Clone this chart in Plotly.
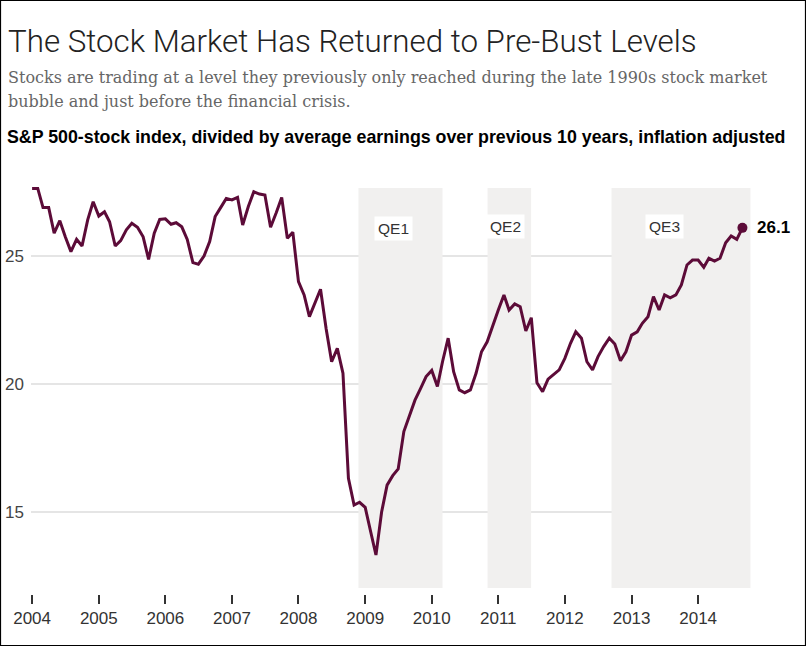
import pandas as pd
import plotly.graph_objects as go

# Shiller-style P/E (CAPE) readings, monthly, Jan 2004 - Sep 2014
pe_2004 = [27.64, 27.64, 26.89, 26.89, 25.89, 26.38, 25.75, 25.17, 25.65, 25.39, 26.41, 27.12]
pe_2005 = [26.56, 26.73, 26.34, 25.39, 25.60, 26.02, 26.28, 26.12, 25.75, 24.87, 25.89, 26.43]
pe_2006 = [26.45, 26.24, 26.30, 26.14, 25.65, 24.74, 24.68, 25.00, 25.56, 26.54, 26.90, 27.25]
pe_2007 = [27.19, 27.29, 26.21, 26.93, 27.51, 27.42, 27.38, 26.12, 26.69, 27.29, 25.69, 25.93]
pe_2008 = [24.00, 23.48, 22.63, 23.21, 23.70, 22.15, 20.87, 21.39, 20.42, 16.32, 15.27, 15.38]
pe_2009 = [15.18, 14.20, 13.32, 15.00, 16.05, 16.42, 16.68, 18.14, 18.79, 19.37, 19.83, 20.29]
pe_2010 = [20.53, 19.90, 20.87, 21.79, 20.48, 19.77, 19.66, 19.77, 20.42, 21.26, 21.65, 22.30]
pe_2011 = [22.89, 23.48, 22.89, 23.13, 23.02, 22.07, 22.59, 20.05, 19.70, 20.19, 20.39, 20.55]
pe_2012 = [21.00, 21.59, 22.04, 21.79, 20.87, 20.55, 21.07, 21.46, 21.79, 21.56, 20.91, 21.26]
pe_2013 = [21.91, 22.04, 22.37, 22.63, 23.41, 22.89, 23.48, 23.37, 23.48, 23.87, 24.65, 24.84]
pe_2014 = [24.84, 24.56, 24.91, 24.80, 24.91, 25.52, 25.78, 25.65, 26.10]

qe_names = ["QE1", "QE2", "QE3"]
qe_starts = ["2008-11-25", "2010-11-03", "2012-09-13"]
qe_ends = ["2010-03-01", "2011-06-30", "2014-10-15"]

y_ticks = [15, 20, 25]
x_ticks = [str(y) for y in range(2004, 2015)]

pe = (pe_2004 + pe_2005 + pe_2006 + pe_2007 + pe_2008 + pe_2009 +
      pe_2010 + pe_2011 + pe_2012 + pe_2013 + pe_2014)
months = pd.date_range("2004-01-01", periods=len(pe), freq="MS")

LINE = "#5c0b38"

# plot area in pixels: x 31..751, y 184..594
L, R, T, B = 31, 751, 184, 594
W, H = 806, 646


def px(x):
    return (x - L) / (R - L)


def py(y):
    return (B - y) / (B - T)


fig = go.Figure()

fig.add_trace(go.Scatter(
    x=months, y=pe, mode="lines",
    line=dict(color=LINE, width=3),
    hoverinfo="x+y", showlegend=False,
))
fig.add_trace(go.Scatter(
    x=[months[-1]], y=[pe[-1]], mode="markers",
    marker=dict(color=LINE, size=10),
    showlegend=False, cliponaxis=False,
))

shapes = []
for s, e in zip(qe_starts, qe_ends):
    shapes.append(dict(type="rect", xref="x", yref="y", x0=s, x1=e,
                       y0=12.03, y1=27.66, fillcolor="#f1f0ef",
                       line=dict(width=0), layer="below"))
for t in y_ticks:
    shapes.append(dict(type="line", xref="paper", yref="y", x0=0,
                       x1=px(743), y0=t, y1=t,
                       line=dict(color="#dcdcdc", width=1.3), layer="below"))
# outer frame
shapes.append(dict(type="rect", xref="paper", yref="paper",
                   x0=px(0.5), x1=px(W - 0.5), y0=py(H - 0.5), y1=py(0.5),
                   line=dict(color="black", width=1.2)))

annotations = [
    dict(text="The Stock Market Has Returned to Pre-Bust Levels",
         xref="paper", yref="paper", x=px(6), y=py(42), xanchor="left",
         yanchor="middle", showarrow=False,
         font=dict(family="Roboto", size=31.3, color="#222", weight=300)),
    dict(text="Stocks are trading at a level they previously only reached during the late 1990s stock market",
         xref="paper", yref="paper", x=px(6), y=py(77), xanchor="left",
         yanchor="middle", showarrow=False,
         font=dict(family="DejaVu Serif", size=16, color="#666")),
    dict(text="bubble and just before the financial crisis.",
         xref="paper", yref="paper", x=px(6), y=py(101), xanchor="left",
         yanchor="middle", showarrow=False,
         font=dict(family="DejaVu Serif", size=16, color="#666")),
    dict(text="<b>S&P 500-stock index, divided by average earnings over previous 10 years, inflation adjusted</b>",
         xref="paper", yref="paper", x=px(5), y=py(137), xanchor="left",
         yanchor="middle", showarrow=False,
         font=dict(family="Liberation Sans", size=17.8, color="black")),
    dict(text="<b>%.1f</b>" % pe[-1], x=months[-1], y=pe[-1], xanchor="left",
         yanchor="middle", xshift=13, showarrow=False,
         font=dict(family="Liberation Sans", size=17, color="black")),
]
qe_label_x = ["2009-06-05", "2011-02-08", "2013-07-03"]
qe_label_y = [26.09, 26.15, 26.17]
for name, lx, ly in zip(qe_names, qe_label_x, qe_label_y):
    annotations.append(dict(text=name, x=lx, y=ly, showarrow=False,
                            bgcolor="white", borderpad=3,
                            font=dict(family="Liberation Sans", size=15.5, color="#333")))

fig.update_layout(
    width=W, height=H,
    margin=dict(l=L, r=W - R, t=T, b=H - B),
    plot_bgcolor="white", paper_bgcolor="white",
    shapes=shapes, annotations=annotations,
    font=dict(family="Liberation Sans", color="#333"),
    xaxis=dict(
        range=["2003-12-26", "2014-10-18"],
        tickvals=[x + "-01-01" for x in x_ticks], ticktext=x_ticks,
        ticks="outside", ticklen=9, tickwidth=1.5, tickcolor="#333",
        showgrid=False, zeroline=False, showline=False, automargin=False,
        tickfont=dict(size=17, color="#333"),
    ),
    yaxis=dict(
        range=[11.797, 27.8125],
        tickvals=y_ticks, ticks="", showgrid=False, zeroline=False,
        showline=False, ticklabelstandoff=6, automargin=False,
        tickfont=dict(size=17, color="#444"),
    ),
)

# drop the browser's default page margin so the figure sits at the window corner
fig.write_html("out.html", config={"displayModeBar": False},
               post_script="document.body.style.margin='0';")
